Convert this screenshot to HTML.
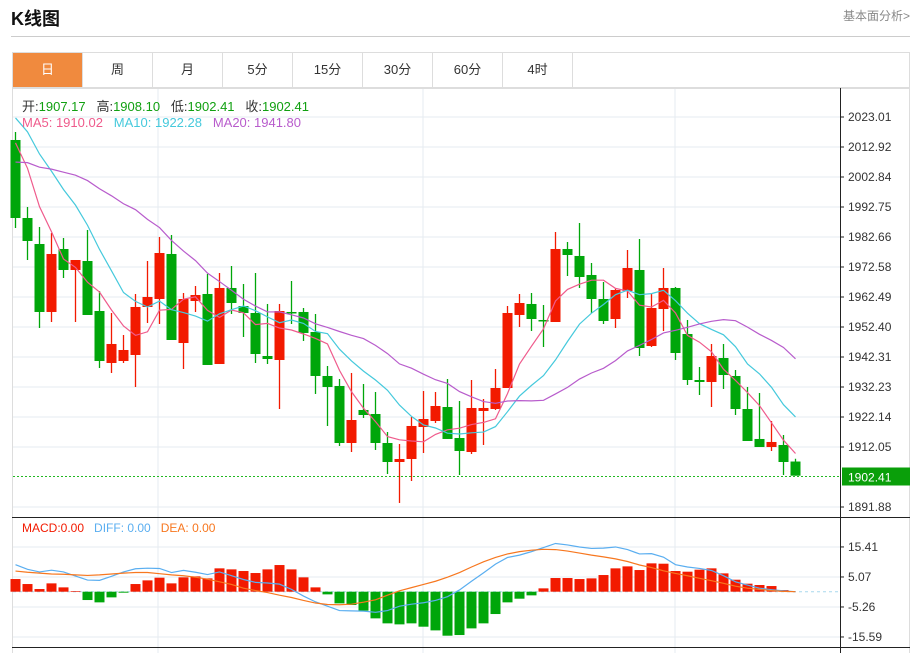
<!DOCTYPE html>
<html><head><meta charset="utf-8">
<style>
body{margin:0;width:920px;height:653px;background:#fff;font-family:"Liberation Sans","Noto Sans CJK SC",sans-serif;overflow:hidden;position:relative}
.t{position:absolute;white-space:nowrap}
</style></head><body>
<div class="t" style="left:11px;top:5px;font-size:18px;font-weight:bold;color:#111">K线图</div>
<div class="t" style="left:843px;top:7px;font-size:12px;color:#888">基本面分析&gt;</div>
<div style="position:absolute;left:11px;top:36px;width:899px;height:1px;background:#ccc"></div>
<div id="tabs" style="position:absolute;left:12px;top:52px;width:898px;height:36px;border:1px solid #ddd;box-sizing:border-box"></div>
<svg id="chart" width="920" height="653" style="position:absolute;left:0;top:0"></svg>
<script>
const tabLabels=["日","周","月","5分","15分","30分","60分","4时"];
const opens=[2015.28,1989.05,1980.31,1957.45,1978.63,1971.57,1974.59,1957.78,1940.30,1940.97,1942.99,1959.13,1961.82,1976.95,1947.02,1961.14,1963.50,1939.96,1965.52,1959.46,1957.11,1942.65,1941.31,1957.45,1957.45,1950.72,1935.93,1932.57,1913.40,1924.50,1923.15,1913.40,1907.01,1908.02,1918.78,1920.80,1925.50,1915.08,1910.37,1924.16,1924.83,1931.89,1956.44,1960.14,1954.76,1954.08,1978.63,1976.28,1969.89,1961.82,1955.09,1964.51,1971.57,1946.01,1958.45,1965.52,1950.05,1934.58,1933.91,1941.98,1935.93,1924.83,1914.75,1912.05,1912.73,1907.17];
const closes=[1989.05,1981.32,1957.45,1976.95,1971.57,1974.93,1956.44,1940.97,1946.69,1944.67,1959.13,1962.49,1977.28,1948.03,1961.82,1963.16,1939.63,1965.52,1960.47,1957.11,1943.32,1941.64,1957.78,1957.11,1950.39,1935.93,1932.23,1913.40,1921.13,1922.81,1913.40,1907.01,1908.02,1919.12,1921.47,1925.84,1914.75,1910.71,1925.17,1925.17,1931.89,1957.11,1960.47,1955.09,1954.42,1978.63,1976.61,1969.21,1961.82,1954.42,1964.84,1972.24,1945.34,1958.79,1965.52,1943.66,1934.58,1933.91,1942.65,1936.26,1924.83,1914.07,1912.05,1913.74,1907.01,1902.41];
const highs=[2017.97,1992.75,1986.03,1984.01,1982.33,1974.93,1985.02,1964.51,1957.11,1949.71,1963.50,1974.59,1982.66,1983.34,1963.83,1966.19,1970.22,1970.56,1972.91,1966.86,1970.56,1960.14,1960.14,1967.87,1958.79,1956.77,1939.29,1934.92,1936.94,1933.24,1930.55,1917.10,1913.06,1922.14,1930.88,1930.55,1934.92,1927.52,1934.58,1928.19,1938.28,1959.46,1963.50,1963.83,1959.80,1984.34,1980.98,1987.37,1973.92,1967.53,1965.52,1978.29,1981.99,1963.50,1972.24,1965.85,1954.76,1938.95,1946.69,1946.69,1937.94,1932.23,1930.21,1920.80,1916.09,1908.10];
const lows=[1985.69,1974.93,1952.07,1954.08,1968.88,1954.08,1956.44,1938.62,1936.94,1940.30,1932.23,1953.75,1953.41,1948.03,1938.28,1957.45,1939.63,1939.96,1956.77,1949.04,1940.30,1939.96,1924.83,1953.41,1947.70,1929.88,1919.12,1912.39,1910.37,1921.81,1911.05,1902.98,1893.23,1900.62,1910.04,1920.12,1914.75,1902.64,1909.70,1912.73,1924.50,1931.89,1952.40,1951.06,1945.68,1954.08,1969.55,1965.52,1957.11,1953.41,1952.07,1962.15,1942.65,1945.68,1951.06,1941.31,1932.90,1929.54,1925.50,1931.56,1922.81,1914.07,1912.05,1910.71,1902.64,1902.41];
const priorCloses=[1985,1988,1990,1992,1995,1993,1996,1994,1998,1999,2028,2032,2035,2033,2027.5,2024,2022,2019,2017.45];
const macdHist=[4.36,2.64,0.92,2.87,1.49,0.23,-2.87,-3.67,-1.95,-0.34,2.64,3.90,4.82,2.87,4.94,5.28,4.59,8.04,7.69,7.12,6.43,7.69,9.18,7.69,4.94,1.49,-0.92,-4.02,-4.59,-6.54,-9.18,-10.9,-11.25,-10.9,-12.05,-13.32,-15.15,-14.92,-12.63,-10.9,-7.69,-3.67,-2.41,-1.26,1.15,4.71,4.71,4.36,4.59,5.74,8.04,8.72,7.46,9.76,9.64,7.12,6.89,7.58,8.04,6.31,4.13,2.76,2.30,1.95,0.57,0];
const diffLine=[9.3,7.7,6.8,7.4,6.8,5.4,4.0,3.9,5.3,6.8,7.9,8.1,8.0,6.6,7.35,6.7,5.9,6.8,5.5,4.2,3.2,3.0,2.6,0.8,-1.5,-3.5,-5.0,-6.5,-6.6,-6.7,-7.1,-6.5,-5.0,-4.3,-3.8,-3.0,-1.7,0.6,3.6,6.5,9.5,11.8,12.6,13.8,15.2,16.6,16.1,15.4,14.9,15.0,15.4,14.5,13.0,13.1,11.9,9.3,8.5,8.0,7.3,5.5,3.4,2.3,1.2,0.7,0.3,0];
const deaLine=[7.1,6.7,6.4,6.1,6.0,5.8,5.6,5.8,6.1,6.4,6.6,6.6,6.2,5.8,5.5,5.0,4.3,3.4,2.5,1.2,0.4,-0.3,-1.2,-2.0,-3.0,-3.9,-4.4,-4.5,-4.3,-3.6,-2.8,-1.2,0.3,1.4,2.5,3.6,5.0,6.6,8.5,10.3,11.8,13.0,13.8,14.3,14.6,14.5,14.0,13.3,12.6,12.0,11.3,10.4,9.2,8.3,7.2,6.3,5.5,4.6,3.8,2.9,1.9,1.2,0.8,0.4,0.1,0];
const priceTicks=[2023.01,2012.92,2002.84,1992.75,1982.66,1972.58,1962.49,1952.40,1942.31,1932.23,1922.14,1912.05,1891.88];
const macdTicks=[15.41,5.07,-5.26,-15.59];
const lastPrice=1902.41;

const tabs=document.getElementById('tabs');
tabLabels.forEach((l,i)=>{
  const d=document.createElement('div');
  
  
  d.textContent=l;
  d.style.cssText='position:absolute;top:0;height:34px;line-height:34px;text-align:center;font-size:13px;left:'+(i*70)+'px;width:70px;border-right:1px solid #ddd;box-sizing:border-box;'+(i===0?'background:#f08a3e;color:#fff;':'color:#333;');
  tabs.appendChild(d);
});

const NS='http://www.w3.org/2000/svg';
const svg=document.getElementById('chart');
function mk(tag,attrs,parent){const e=document.createElementNS(NS,tag);for(const k in attrs)e.setAttribute(k,attrs[k]);(parent||svg).appendChild(e);return e;}
const yP=v=>117+(2023.01-v)*30/10.087;
const yM=v=>591.7-v*30/10.33;
const xC=i=>15.5+12*i;

let f=mk('path',{d:'M12.5 88.5V653M909.5 88.5V653M12 88.5H910',stroke:'#ddd',fill:'none'});


priceTicks.forEach(v=>{let g=mk('line',{x1:13,x2:840,y1:yP(v),y2:yP(v),stroke:'#e5ebf1'});

});
macdTicks.forEach(v=>{let g=mk('line',{x1:13,x2:840,y1:yM(v),y2:yM(v),stroke:'#e5ebf1'});

});
[158,423,675].forEach(x=>{let g=mk('line',{x1:x,x2:x,y1:89,y2:653,stroke:'#e5ebf1'});

});
let ax=mk('path',{d:'M840.5 88V653M12 517.5H910M12 647.5H910',stroke:'#222',fill:'none'});


priceTicks.forEach(v=>{const y=yP(v);mk('line',{x1:840,x2:844,y1:y,y2:y,stroke:'#222'});
let t=mk('text',{x:848,y:y+4,'font-size':12,fill:'#333','font-family':'Liberation Sans, sans-serif'});t.textContent=v.toFixed(2);

});
macdTicks.forEach(v=>{const y=yM(v);mk('line',{x1:840,x2:844,y1:y,y2:y,stroke:'#222'});
let t=mk('text',{x:848,y:y+4,'font-size':12,fill:'#333','font-family':'Liberation Sans, sans-serif'});t.textContent=v.toFixed(2);

});
const ly=Math.round(yP(lastPrice))+0.5;
let lp=mk('line',{x1:13,x2:840,y1:ly,y2:ly,stroke:'#22b822','stroke-dasharray':'2,2'});


let lb=mk('rect',{x:842,y:ly-9,width:68,height:18,fill:'#0a9f0a'});


let lt=mk('text',{x:848,y:ly+5,'font-size':12,fill:'#fff','font-family':'Liberation Sans, sans-serif'});lt.textContent=lastPrice.toFixed(2);


let zl=mk('line',{x1:13,x2:840,y1:yM(0),y2:yM(0),stroke:'#a8d8ee','stroke-dasharray':'3,3'});



opens.forEach((o,i)=>{
  const c=closes[i],up=c>=o,col=up?'#f21a00':'#00a60a',x=xC(i);
  const g=mk('g',{});
  
  
  mk('line',{x1:x,x2:x,y1:yP(highs[i]),y2:yP(lows[i]),stroke:col,'stroke-width':1.3},g);
  const t=yP(Math.max(o,c)),b=yP(Math.min(o,c));
  mk('rect',{x:x-5,y:t,width:10,height:Math.max(1.5,b-t),fill:col},g);
});
const all=priorCloses.concat(closes);
function ma(n){return closes.map((_,i)=>{let s=0;for(let k=0;k<n;k++)s+=all[priorCloses.length+i-k];return s/n;});}
[[5,'#ef5b8c','ma5-line'],[10,'#45c9dc','ma10-line'],[20,'#b85ccc','ma20-line']].forEach(([n,col,name])=>{
  const v=ma(n);
  const p=mk('polyline',{points:v.map((m,i)=>xC(i)+','+yP(m)).join(' '),fill:'none',stroke:col,'stroke-width':1.2});
  
  
});
macdHist.forEach((v,i)=>{
  const y0=yM(0),y1=yM(v);
  const r=mk('rect',{x:xC(i)-5,y:Math.min(y0,y1),width:10,height:Math.abs(y1-y0),fill:v>=0?'#f21a00':'#00a60a'});
  
  
});
[[diffLine,'#5aaef0','diff-line'],[deaLine,'#f7771f','dea-line']].forEach(([arr,col,name])=>{
  const p=mk('polyline',{points:arr.map((m,i)=>xC(i)+','+yM(m)).join(' '),fill:'none',stroke:col,'stroke-width':1.2});
  
  
});
</script>
<div class="t" style="left:22px;top:96px;font-size:13px;color:#333">开:<span style="color:#11a011">1907.17</span>&nbsp;&nbsp; 高:<span style="color:#11a011">1908.10</span>&nbsp;&nbsp; 低:<span style="color:#11a011">1902.41</span>&nbsp;&nbsp; 收:<span style="color:#11a011">1902.41</span></div>
<div class="t" style="left:22px;top:115px;font-size:13px"><span style="color:#ef5b8c">MA5: 1910.02</span>&nbsp;&nbsp;&nbsp;<span style="color:#45c9dc">MA10: 1922.28</span>&nbsp;&nbsp;&nbsp;<span style="color:#b85ccc">MA20: 1941.80</span></div>
<div class="t" style="left:22px;top:521px;font-size:12px"><span style="color:#f21a00">MACD:0.00</span>&nbsp;&nbsp;&nbsp;<span style="color:#5aaef0">DIFF: 0.00</span>&nbsp;&nbsp;&nbsp;<span style="color:#f7771f">DEA: 0.00</span></div>
</body></html>
